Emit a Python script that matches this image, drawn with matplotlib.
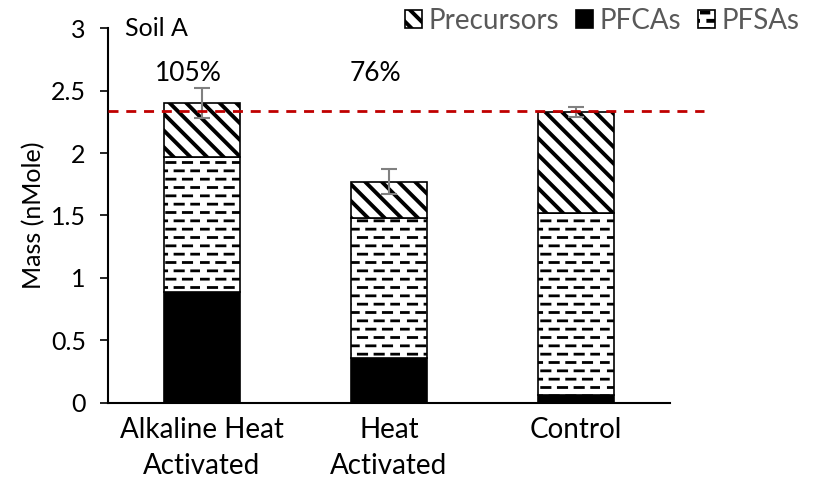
import warnings
import numpy as np
import matplotlib
matplotlib.use("Agg")
import matplotlib.pyplot as plt
import matplotlib.hatch as mhatch
from matplotlib.path import Path

warnings.filterwarnings("ignore")

# -----------------------------
# Data
# -----------------------------
categories = ["Alkaline Heat\nActivated", "Heat\nActivated", "Control"]
pfcas = [0.89, 0.36, 0.06]
pfsas = [1.08, 1.12, 1.46]
precursors = [0.43, 0.29, 0.81]
total_err = [0.12, 0.10, 0.04]
recovery_labels = ["105%", "76%", ""]
control_line = 2.34


# -----------------------------
# Custom dashed-row hatch ("_")
# -----------------------------
class DashRows(mhatch.HatchPatternBase):
    def __init__(self, hatch, density):
        self.num_rows = 12 if "_" in hatch else 0
        self.num_dashes = 6
        self.num_vertices = self.num_rows * self.num_dashes * 2

    def set_vertices_and_codes(self, vertices, codes):
        k = 0
        step = 1.0 / self.num_dashes
        for i in range(self.num_rows):
            y = (i + 0.5) / self.num_rows
            off = (i % 2) * step / 2
            for j in range(self.num_dashes):
                x0 = off + j * step
                vertices[k] = (x0, y)
                vertices[k + 1] = (x0 + step * 0.5, y)
                codes[k] = Path.MOVETO
                codes[k + 1] = Path.LINETO
                k += 2


mhatch._hatch_types.append(DashRows)

plt.rcParams["font.family"] = ["Lato", "DejaVu Sans"]

fig = plt.figure(figsize=(8.15, 4.92), dpi=100)
ax = fig.add_axes([0.1325, 0.181, 0.6895, 0.762])

x = np.arange(len(categories))
width = 0.405
bottom2 = np.array(pfcas)
bottom3 = bottom2 + np.array(pfsas)
totals = bottom3 + np.array(precursors)

plt.rcParams["hatch.linewidth"] = 2.0
b_pfca = ax.bar(x, pfcas, width, color="black", edgecolor="black",
                linewidth=1.2, label="PFCAs")
b_pfsa = ax.bar(x, pfsas, width, bottom=bottom2, color="white",
                edgecolor="black", linewidth=1.2, hatch="_", label="PFSAs")
plt.rcParams["hatch.linewidth"] = 2.8
b_prec = ax.bar(x, precursors, width, bottom=bottom3, color="white",
                edgecolor="black", linewidth=1.2, hatch="\\\\",
                label="Precursors")

ax.errorbar(x, totals, yerr=total_err, fmt="none", ecolor="#808080",
            elinewidth=1.5, capsize=6, capthick=1.5)

ax.plot([-0.5, 2.68], [control_line, control_line], color="#C00000",
        linewidth=2, linestyle=(0, (3.6, 2.8)), clip_on=False, zorder=5)

for xi, lab in zip(x, recovery_labels):
    ax.text(xi - 0.07, 2.64, lab, ha="center", va="center", fontsize=19)

ax.text(0.03, 1.0, "Soil A", transform=ax.transAxes, ha="left",
        va="center", fontsize=18)

ax.set_xlim(-0.5, 2.5)
ax.set_ylim(0, 3)
ax.set_yticks(np.arange(0, 3.01, 0.5))
ax.set_yticklabels([f"{v:g}" for v in np.arange(0, 3.01, 0.5)])
ax.set_xticks(x)
ax.set_xticklabels(categories, linespacing=1.5)
ax.tick_params(axis="y", labelsize=18, length=6, width=1.2, pad=10)
ax.tick_params(axis="x", labelsize=20, length=0, pad=10)
ax.set_ylabel("Mass (nMole)", fontsize=18, labelpad=4)

for s in ["top", "right"]:
    ax.spines[s].set_visible(False)
for s in ["left", "bottom"]:
    ax.spines[s].set_linewidth(1.5)

leg = fig.legend(handles=[b_prec, b_pfca, b_pfsa],
                 labels=["Precursors", "PFCAs", "PFSAs"],
                 loc="upper right", bbox_to_anchor=(1.012, 1.035), ncol=3,
                 frameon=False, fontsize=20, handlelength=0.6,
                 handleheight=0.6, handletextpad=0.25, columnspacing=0.6,
                 labelcolor="#595959")

fig.savefig("out.png", dpi=100)
